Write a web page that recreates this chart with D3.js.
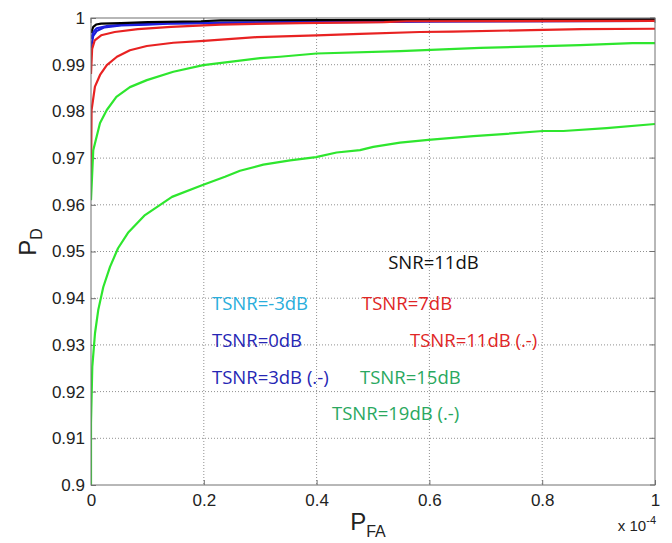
<!DOCTYPE html>
<html>
<head>
<meta charset="utf-8">
<script src="https://cdn.jsdelivr.net/npm/d3@7"></script>
<style>
  body { margin: 0; background: #fff; }
  svg { display: block; }
</style>
</head>
<body>
<div id="chart"></div>
<script>
// P_FA axis is in units of 1e-4
var xTicks = [0, 0.2, 0.4, 0.6, 0.8, 1];
var yTicks = [0.9, 0.91, 0.92, 0.93, 0.94, 0.95, 0.96, 0.97, 0.98, 0.99, 1];

// curves, [P_FA, P_D]
var curveBlue3 = [[0, 0.9935], [0.004, 0.9962], [0.01, 0.9972], [0.024, 0.998], [0.053, 0.9984], [0.1, 0.9986], [0.136, 0.9988], [0.3, 0.999], [0.6, 0.9992], [1, 0.9994]];
var curveBlue0 = [[0, 0.9955], [0.004, 0.997], [0.01, 0.9978], [0.03, 0.9983], [0.06, 0.9986], [0.14, 0.9989], [0.4, 0.9992], [0.78, 0.9995], [1, 0.9996]];
var curveBlack = [[0, 0.9968], [0.004, 0.9981], [0.009, 0.9986], [0.018, 0.9988], [0.053, 0.9989], [0.101, 0.9991], [0.195, 0.9993], [0.23, 0.9995], [0.55, 0.9996], [1, 0.9997]];
var curveRed7 = [[0, 0.988], [0.002, 0.9934], [0.0066, 0.9952], [0.018, 0.9963], [0.042, 0.997], [0.083, 0.9976], [0.142, 0.9981], [0.2, 0.9984], [0.23, 0.9986], [0.37, 0.9989], [0.52, 0.9991], [0.56, 0.9993], [1, 0.9994]];
var curveRed11 = [[0, 0.965], [0.001, 0.9803], [0.007, 0.9853], [0.016, 0.9878], [0.028, 0.9899], [0.046, 0.9917], [0.069, 0.9931], [0.099, 0.994], [0.146, 0.9947], [0.2, 0.9951], [0.294, 0.9959], [0.4, 0.9963], [0.477, 0.9966], [0.583, 0.997], [0.64, 0.9971], [0.78, 0.9974], [0.87, 0.9976], [1, 0.9977]];
var curveGreen15 = [[0, 0.961], [0.004, 0.9717], [0.016, 0.9775], [0.028, 0.9803], [0.045, 0.9831], [0.069, 0.9852], [0.099, 0.9867], [0.146, 0.9885], [0.199, 0.9899], [0.246, 0.9906], [0.3, 0.9914], [0.335, 0.9917], [0.4, 0.9924], [0.548, 0.9929], [0.69, 0.9936], [0.867, 0.9942], [0.96, 0.9946], [1, 0.9946]];
var curveGreen19 = [[0, 0.9], [0, 0.9133], [0.0023, 0.9253], [0.0071, 0.9325], [0.0129, 0.9375], [0.0218, 0.9424], [0.0337, 0.9467], [0.0479, 0.9507], [0.0656, 0.954], [0.0957, 0.9578], [0.1436, 0.9617], [0.1968, 0.9642], [0.2376, 0.966], [0.2642, 0.9673], [0.3055, 0.9686], [0.353, 0.9695], [0.399, 0.9702], [0.4355, 0.9712], [0.477, 0.9717], [0.5005, 0.9724], [0.548, 0.9733], [0.598, 0.9739], [0.678, 0.9747], [0.737, 0.9752], [0.801, 0.9758], [0.8375, 0.9758], [0.914, 0.9764], [1, 0.9773]];

// annotation texts and where they sit, in data units (left edge, baseline)
var labelTexts = ["SNR=11dB", "TSNR=-3dB", "TSNR=7dB", "TSNR=0dB", "TSNR=11dB (.-)", "TSNR=3dB (.-)", "TSNR=15dB", "TSNR=19dB (.-)"];
var labelPFA = [0.527, 0.2145, 0.4805, 0.2145, 0.5656, 0.2145, 0.477, 0.4273];
var labelPD = [0.9463, 0.9375, 0.9375, 0.9296, 0.9296, 0.9216, 0.9216, 0.9139];

var width = 672;
var height = 543;
var margin = { top: 18, right: 17, bottom: 58, left: 91 };

var svg = d3.select("#chart")
  .append("svg")
  .attr("width", width)
  .attr("height", height);

var xScale = d3.scaleLinear()
  .domain([0, 1])
  .range([margin.left, width - margin.right]);

var yScale = d3.scaleLinear()
  .domain([0.9, 1])
  .range([height - margin.bottom, margin.top]);

var fmt = function (d) { return d3.format("~g")(+d.toFixed(2)); };

// dotted grid
svg.append("g")
  .selectAll("line")
  .data(xTicks.slice(1, -1))
  .enter().append("line")
  .attr("x1", function (d) { return xScale(d); })
  .attr("x2", function (d) { return xScale(d); })
  .attr("y1", margin.top)
  .attr("y2", height - margin.bottom)
  .attr("stroke", "#909090")
  .attr("stroke-dasharray", "1,2");

svg.append("g")
  .selectAll("line")
  .data(yTicks.slice(1, -1))
  .enter().append("line")
  .attr("x1", margin.left)
  .attr("x2", width - margin.right)
  .attr("y1", function (d) { return yScale(d); })
  .attr("y2", function (d) { return yScale(d); })
  .attr("stroke", "#909090")
  .attr("stroke-dasharray", "1,2");

// axes (matlab style: inward ticks, box)
var xAxis = svg.append("g")
  .attr("transform", "translate(0," + (height - margin.bottom) + ")")
  .call(d3.axisBottom(xScale).tickValues(xTicks).tickFormat(fmt).tickSizeInner(-5).tickSizeOuter(0).tickPadding(9));

var yAxis = svg.append("g")
  .attr("transform", "translate(" + margin.left + ",0)")
  .call(d3.axisLeft(yScale).tickValues(yTicks).tickFormat(fmt).tickSizeInner(-5).tickSizeOuter(0).tickPadding(6));

[xAxis, yAxis].forEach(function (ax) {
  ax.select(".domain").remove();
  ax.selectAll(".tick line").attr("stroke", "#707070");
  ax.selectAll("text")
    .style("font-family", "'Liberation Sans', Arial, sans-serif")
    .style("font-size", "17px")
    .style("fill", "#222");
});

// top and right ticks
svg.append("g")
  .selectAll("line")
  .data(xTicks)
  .enter().append("line")
  .attr("x1", function (d) { return xScale(d); })
  .attr("x2", function (d) { return xScale(d); })
  .attr("y1", margin.top)
  .attr("y2", margin.top + 5)
  .attr("stroke", "#707070");

svg.append("g")
  .selectAll("line")
  .data(yTicks)
  .enter().append("line")
  .attr("x1", width - margin.right)
  .attr("x2", width - margin.right - 5)
  .attr("y1", function (d) { return yScale(d); })
  .attr("y2", function (d) { return yScale(d); })
  .attr("stroke", "#707070");

// clip for curves
svg.append("clipPath")
  .attr("id", "plot-clip")
  .append("rect")
  .attr("x", margin.left)
  .attr("y", margin.top)
  .attr("width", width - margin.left - margin.right)
  .attr("height", height - margin.top - margin.bottom);

var line = d3.line()
  .x(function (d) { return xScale(d[0]); })
  .y(function (d) { return yScale(d[1]); });

var curves = [
  { data: curveBlue3, color: "#1c1cd8" },
  { data: curveBlue0, color: "#2020e0" },
  { data: curveBlack, color: "#000000" },
  { data: curveRed7, color: "#e82222" },
  { data: curveRed11, color: "#e82222" },
  { data: curveGreen15, color: "#2ee62e" },
  { data: curveGreen19, color: "#2ee62e" }
];

svg.append("g")
  .attr("clip-path", "url(#plot-clip)")
  .selectAll("path")
  .data(curves)
  .enter().append("path")
  .attr("fill", "none")
  .attr("stroke", function (d) { return d.color; })
  .attr("stroke-width", 2.2)
  .attr("stroke-linejoin", "round")
  .attr("d", function (d) { return line(d.data); });

// box
svg.append("rect")
  .attr("x", margin.left)
  .attr("y", margin.top)
  .attr("width", width - margin.left - margin.right)
  .attr("height", height - margin.top - margin.bottom)
  .attr("fill", "none")
  .attr("stroke", "#707070");

// annotations
var labelColors = ["#111111", "#2aaedc", "#e02626", "#2626b4", "#e02626", "#2626b4", "#2aa860", "#2aa860"];

svg.append("g")
  .selectAll("text")
  .data(labelTexts)
  .enter().append("text")
  .attr("x", function (d, i) { return xScale(labelPFA[i]); })
  .attr("y", function (d, i) { return yScale(labelPD[i]); })
  .style("font-family", "'Open Sans', sans-serif")
  .style("font-size", "18.5px")
  .style("fill", function (d, i) { return labelColors[i]; })
  .text(function (d) { return d; });

// axis labels
var pd = svg.append("text")
  .attr("transform", "translate(36,242) rotate(-90)")
  .attr("text-anchor", "middle")
  .style("font-family", "'Liberation Sans', Arial, sans-serif")
  .style("font-size", "24px")
  .style("fill", "#222");
pd.append("tspan").text("P");
pd.append("tspan").attr("dy", 6).style("font-size", "16px").text("D");

var pfa = svg.append("text")
  .attr("x", 368)
  .attr("y", 530)
  .attr("text-anchor", "middle")
  .style("font-family", "'Liberation Sans', Arial, sans-serif")
  .style("font-size", "24px")
  .style("fill", "#222");
pfa.append("tspan").text("P");
pfa.append("tspan").attr("dy", 7).style("font-size", "16px").text("FA");

var mult = svg.append("text")
  .attr("x", width - margin.right + 1)
  .attr("y", 531)
  .attr("text-anchor", "end")
  .style("font-family", "'Liberation Sans', Arial, sans-serif")
  .style("font-size", "15px")
  .style("fill", "#222");
mult.append("tspan").text("x 10");
mult.append("tspan").attr("dy", -7).style("font-size", "11px").text("-4");
</script>
</body>
</html>
